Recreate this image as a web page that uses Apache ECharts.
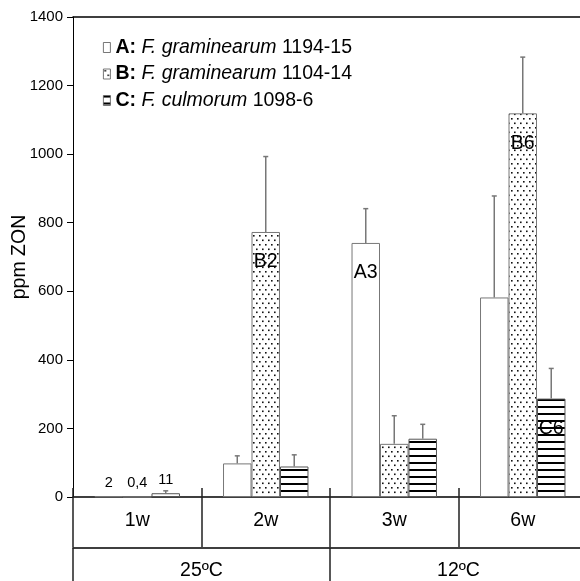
<!DOCTYPE html>
<html>

<head>
    <meta charset="utf-8">
    <title>ppm ZON</title>
    <style>
        html,
        body {
            margin: 0;
            padding: 0;
            background: #fff;
        }

        #chart {
            width: 580px;
            height: 581px;
        }
    </style>
</head>

<body>
    <div id="chart"></div>
</body>
<script type="text/javascript" src="https://cdn.jsdelivr.net/npm/echarts@6/dist/echarts.min.js"></script>
<script type="text/javascript">
    // categories
    var weeks = ['1w', '2w', '3w', '6w'];
    var temps = ['25ºC', '12ºC'];

    // series (ppm ZON) and upper error
    var valA = [2, 98, 741, 582];
    var valB = [0.4, 773, 155, 1119];
    var valC = [11, 89, 170, 287];
    var errA = [0, 22, 100, 296];
    var errB = [0, 220, 82, 164];
    var errC = [7, 34, 42, 88];

    // bar labels
    var labA = ['2', '', 'A3', ''];
    var labB = ['0,4', 'B2', '', 'B6'];
    var labC = ['11', '', '', 'C6'];

    // legend
    var seriesKeys = ['A', 'B', 'C'];
    var species = ['F. graminearum', 'F. graminearum', 'F. culmorum'];
    var strains = ['1194-15', '1104-14', '1098-6'];

    var FONT = '"Liberation Sans", Arial, sans-serif';
    var GAP = 0.335;

    // patterns
    function dotPattern() {
        var c = document.createElement('canvas');
        c.width = 6;
        c.height = 9;
        var ctx = c.getContext('2d');
        ctx.fillStyle = '#fff';
        ctx.fillRect(0, 0, 6, 9);
        ctx.fillStyle = '#111';
        ctx.fillRect(1, 1, 1.6, 1.6);
        ctx.fillRect(4, 5.5, 1.6, 1.6);
        return c;
    }

    function stripePattern() {
        var c = document.createElement('canvas');
        c.width = 4;
        c.height = 7;
        var ctx = c.getContext('2d');
        ctx.fillStyle = '#fff';
        ctx.fillRect(0, 0, 4, 7);
        ctx.fillStyle = '#000';
        ctx.fillRect(0, 0, 4, 2);
        return c;
    }

    function barData(vals, labs) {
        return vals.map(function(v, i) {
            var lab = labs[i];
            var first = i === 0;
            return {
                value: v,
                label: {
                    show: lab !== '',
                    formatter: lab,
                    position: first ? 'top' : 'insideTop',
                    distance: first ? 6 : 20,
                    fontSize: first ? 14.5 : 19.5,
                    color: '#000',
                    fontFamily: FONT
                }
            };
        });
    }

    function barSeries(name, vals, labs, color, border) {
        return {
            name: name,
            type: 'bar',
            barGap: 0,
            barCategoryGap: (GAP * 100) + '%',
            itemStyle: {
                color: color,
                borderColor: border,
                borderWidth: 1
            },
            data: barData(vals, labs),
            z: 2
        };
    }

    // error bars (upper only)
    function errSeries(k, vals, errs) {
        return {
            type: 'custom',
            silent: true,
            z: 3,
            encode: {
                x: 0,
                y: 1
            },
            renderItem: function(params, api) {
                var c = api.value(0),
                    v = api.value(1),
                    e = api.value(2);
                if (!e) return;
                var band = api.size([1, 0])[0];
                var bw = band * (1 - GAP) / 3;
                var x = api.coord([c, 0])[0] + (k - 1) * bw;
                var y0 = api.coord([c, v])[1];
                var y1 = api.coord([c, v + e])[1];
                return {
                    type: 'group',
                    children: [{
                        type: 'line',
                        shape: { x1: x, y1: y0, x2: x, y2: y1 },
                        style: { stroke: '#777', lineWidth: 1.5 }
                    }, {
                        type: 'line',
                        shape: { x1: x - 2.5, y1: y1, x2: x + 2.5, y2: y1 },
                        style: { stroke: '#777', lineWidth: 1.5 }
                    }]
                };
            },
            data: vals.map(function(v, i) {
                return [i, v, errs[i]];
            })
        };
    }

    var myChart = echarts.init(document.getElementById('chart'));
    var dots = { image: dotPattern(), repeat: 'repeat' };
    var stripes = { image: stripePattern(), repeat: 'repeat' };

    var option = {
        animation: false,
        textStyle: { fontFamily: FONT },
        grid: {
            left: 73,
            top: 17,
            width: 514,
            height: 480,
            containLabel: false,
            outerBoundsMode: 'none'
        },
        legend: {
            data: seriesKeys,
            orient: 'vertical',
            left: 98,
            top: 32,
            itemWidth: 7,
            itemHeight: 10,
            itemGap: 5.5,
            selectedMode: false,
            icon: 'rect',
            itemStyle: {
                borderWidth: 0.8,
                borderColor: '#555'
            },
            formatter: function(name) {
                var i = seriesKeys.indexOf(name);
                return '{b|' + name + ':} {i|' + species[i] + '} ' + strains[i];
            },
            textStyle: {
                fontSize: 19.5,
                lineHeight: 21,
                color: '#000',
                fontFamily: FONT,
                rich: {
                    b: { fontWeight: 'bold', fontSize: 19.5, color: '#000', fontFamily: FONT },
                    i: { fontStyle: 'italic', fontSize: 19.5, color: '#000', fontFamily: FONT }
                }
            }
        },
        xAxis: [{
            type: 'category',
            data: weeks,
            position: 'bottom',
            axisLine: { onZero: false, lineStyle: { color: '#000', width: 1.5 } },
            axisTick: { show: false },
            axisLabel: { fontSize: 19.5, color: '#000', margin: 14 },
            splitLine: { show: false }
        }, {
            type: 'category',
            data: weeks,
            position: 'bottom',
            offset: -9,
            axisLine: { show: false, onZero: false },
            axisTick: { show: true, length: 59, lineStyle: { color: '#222', width: 1.5 } },
            axisLabel: { show: false },
            splitLine: { show: false }
        }, {
            type: 'category',
            data: temps,
            position: 'bottom',
            offset: 50.5,
            axisLine: { onZero: false, lineStyle: { color: '#000', width: 1.5 } },
            axisTick: { show: true, length: 40, lineStyle: { color: '#222', width: 1.5 } },
            axisLabel: { fontSize: 19.5, color: '#000', margin: 13 },
            splitLine: { show: false }
        }, {
            type: 'category',
            data: [''],
            position: 'top',
            axisLine: { onZero: false, lineStyle: { color: '#000', width: 1.5 } },
            axisTick: { show: false },
            axisLabel: { show: false },
            splitLine: { show: false }
        }],
        yAxis: {
            type: 'value',
            min: 0,
            max: 1400,
            interval: 200,
            name: 'ppm ZON',
            nameLocation: 'middle',
            nameGap: 43,
            nameMoveOverlap: false,
            nameTextStyle: { fontSize: 19.5, color: '#000' },
            axisLine: { show: true, lineStyle: { color: '#000', width: 1 } },
            axisTick: { show: true, length: 6, lineStyle: { color: '#000' } },
            axisLabel: {
                fontSize: 15,
                color: '#000',
                margin: 10,
                formatter: function(v) {
                    return String(v);
                }
            },
            splitLine: { show: false }
        },
        series: [
            barSeries('A', valA, labA, '#fff', '#777'),
            barSeries('B', valB, labB, dots, '#777'),
            barSeries('C', valC, labC, stripes, '#555'),
            errSeries(0, valA, errA),
            errSeries(1, valB, errB),
            errSeries(2, valC, errC)
        ]
    };
    myChart.setOption(option);
</script>

</html>
